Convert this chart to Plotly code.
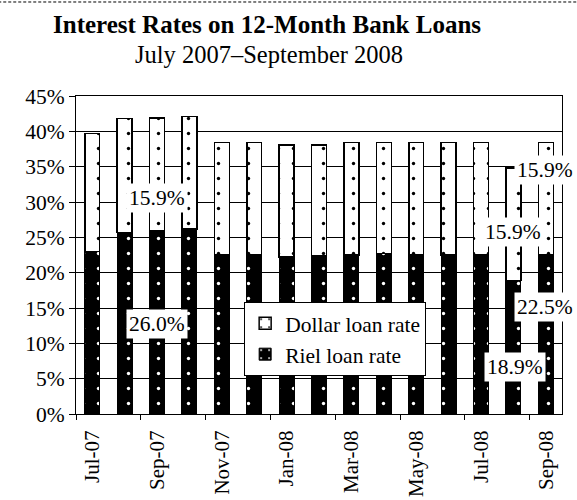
import plotly.graph_objects as go

months = ["Jul-07", "Aug-07", "Sep-07", "Oct-07", "Nov-07", "Dec-07", "Jan-08",
          "Feb-08", "Mar-08", "Apr-08", "May-08", "Jun-08", "Jul-08", "Aug-08", "Sep-08"]
riel_rate = [23.0, 25.7, 26.0, 26.2, 22.5, 22.5, 22.2, 22.4, 22.5, 22.7, 22.5, 22.5, 22.5, 18.9, 22.5]
dollar_rate = [16.7, 16.1, 15.9, 15.9, 15.9, 15.9, 15.9, 15.7, 15.9, 15.7, 15.9, 15.9, 15.9, 15.9, 15.9]
tick_labels = ["Jul-07", "Sep-07", "Nov-07", "Jan-08", "Mar-08", "May-08", "Jul-08", "Sep-08"]
y_ticks = [0, 5, 10, 15, 20, 25, 30, 35, 40, 45]

# labelled points: (series, month index, label y position, anchor, x shift px)
labels = [
    ("dollar", 2, 30.6, "center", 0),
    ("riel", 2, 12.8, "center", 0),
    ("dollar", 13, 25.8, "center", 0),
    ("riel", 13, 6.7, "center", 1.5),
    ("dollar", 14, 34.5, "right", 30),
    ("riel", 14, 15.2, "right", 30),
]

FONT = "Liberation Serif"
FS = 21.5
x = list(range(len(months)))

fig = go.Figure()
fig.add_trace(go.Bar(
    x=x, y=riel_rate, name="Riel loan rate", width=0.46, legendgroup="r",
    legendrank=2,
    marker=dict(color="black", line=dict(color="black", width=1),
                pattern=dict(shape=".", fgcolor="white", bgcolor="black",
                             fillmode="replace", size=15, solidity=0.04)),
))
fig.add_trace(go.Bar(
    x=x, y=dollar_rate, name="Dollar loan rate", width=0.46, legendgroup="d",
    legendrank=1,
    marker=dict(color="white", line=dict(color="black", width=1.5),
                pattern=dict(shape=".", fgcolor="black", bgcolor="white",
                             fillmode="replace", size=15, solidity=0.04)),
))

for series, i, ypos, anchor, xs in labels:
    v = dollar_rate[i] if series == "dollar" else riel_rate[i]
    fig.add_annotation(x=x[i], y=ypos, xref="x", yref="y", text=f"{v:.1f}%",
                       showarrow=False, bgcolor="white", borderpad=2, xshift=xs,
                       xanchor=anchor,
                       font=dict(family=FONT, size=FS, color="black"))

fig.add_annotation(xref="paper", yref="paper", x=0.394, y=1.226, yanchor="middle",
                   text="<b>Interest Rates on 12-Month Bank Loans</b>", showarrow=False,
                   font=dict(family=FONT, size=25, color="black"))
fig.add_annotation(xref="paper", yref="paper", x=0.398, y=1.132, yanchor="middle",
                   text="July 2007–September 2008", showarrow=False,
                   font=dict(family=FONT, size=24.5, color="black"))

fig.add_shape(type="line", xref="paper", yref="paper", x0=-0.16, x1=1.04,
              y0=1.2956, y1=1.2956, line=dict(color="black", width=1, dash="3px,2px"))

fig.update_layout(
    width=577, height=500,
    margin=dict(l=76, r=15, t=96, b=86, autoexpand=False),
    paper_bgcolor="white", plot_bgcolor="white",
    barmode="stack",
    font=dict(family=FONT, size=FS, color="black"),
    showlegend=True,
    legend=dict(x=0.346, y=0.353, xanchor="left", yanchor="top",
                bgcolor="white", bordercolor="black", borderwidth=1,
                traceorder="normal", tracegroupgap=2,
                font=dict(family=FONT, size=FS, color="black")),
)
fig.update_xaxes(
    range=[-0.5, 14.5], tickmode="array",
    tickvals=[x[months.index(m)] for m in tick_labels], ticktext=tick_labels,
    tickangle=-90, ticks="", showgrid=False, zeroline=False, automargin=False,
    showline=True, linecolor="black", linewidth=1, mirror=True,
    ticklabelstandoff=7, tickfont=dict(size=21),
    minor=dict(tickmode="array", tickvals=[v - 0.5 for v in x[::2]],
               ticks="outside", ticklen=5, tickcolor="black", showgrid=False),
)
fig.update_yaxes(
    range=[0, 45], tickmode="array", tickvals=y_ticks,
    ticktext=[f"{t}%" for t in y_ticks], automargin=False,
    ticks="outside", ticklen=6, tickcolor="black",
    showgrid=True, gridcolor="black", gridwidth=1, zeroline=False,
    showline=True, linecolor="black", linewidth=1, mirror=True,
    ticklabelstandoff=0,
)

fig.write_html("out.html", config={"displayModeBar": False},
               post_script="document.body.style.margin='0';")
